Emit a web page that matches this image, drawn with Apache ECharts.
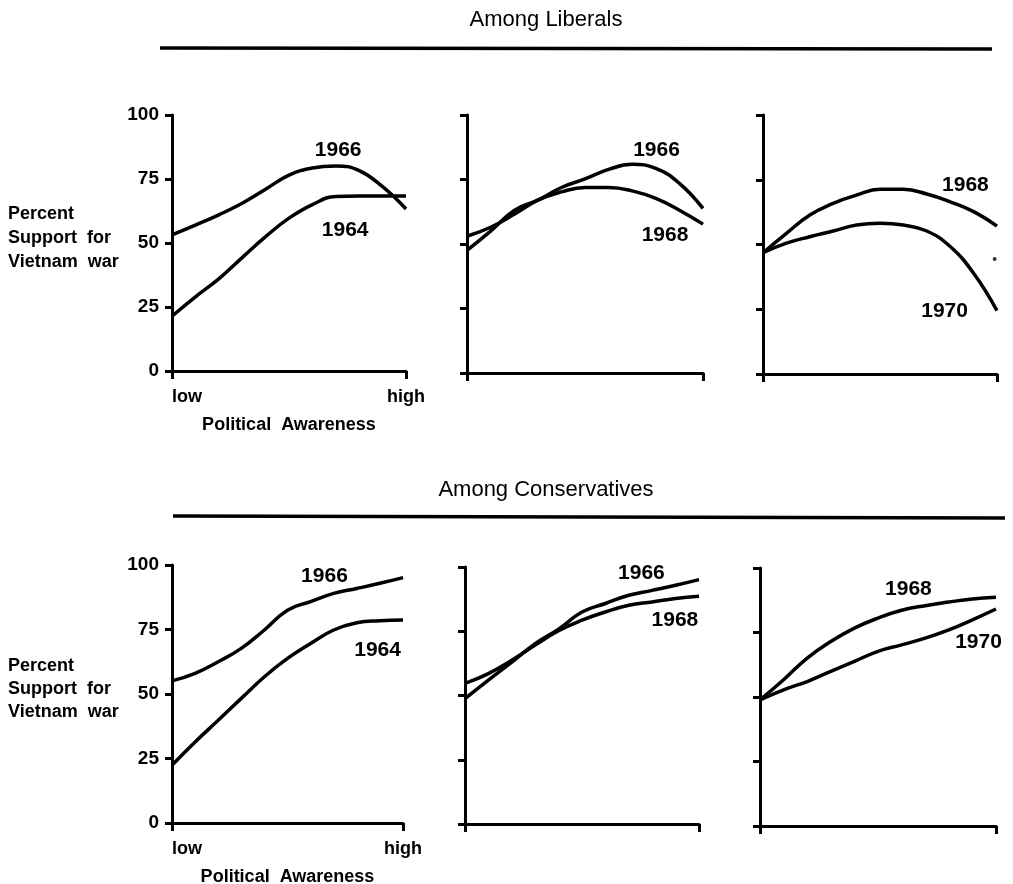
<!DOCTYPE html>
<html><head><meta charset="utf-8">
<script src="https://cdn.jsdelivr.net/npm/echarts/dist/echarts.min.js"></script>
<style>html,body{margin:0;padding:0;background:#fff}#c{width:1013px;height:884px}</style>
</head><body><div id="c"></div>
<script>
// ---- data ----
const awareness = [0, 1, 2, 3, 4, 5, 6, 7, 8, 9, 10];
const xTickLabels = ['low', 'high'];
const yTickValues = [0, 25, 50, 75, 100];

// Among Liberals
const lib1964 = [21.4, 29, 36, 44.3, 52.5, 59.7, 65, 68.2, 68.4, 68.4, 68.4];
const lib1966a = [53.2, 57, 61, 65.5, 71, 76.5, 79.3, 80.1, 78.3, 72, 63.3];
const lib1966b = [47.5, 55, 63, 67, 71.9, 75.2, 78.9, 80.9, 79.3, 73.5, 63.8];
const lib1968b = [53, 56.5, 61.5, 67, 70.2, 71.9, 71.9, 70.6, 67.7, 63.1, 57.7];
const lib1968c = [46.8, 54.3, 61.4, 65.9, 69.1, 71.3, 71.3, 69.5, 66.5, 62.7, 57.1];
const lib1970c = [46.8, 50.5, 53, 55.2, 57.5, 58.2, 57.5, 55.2, 49.2, 38.9, 24.5];
const libSpeck = [[9.9, 44.4]];

// Among Conservatives
const con1964 = [22.4, 31.4, 39.8, 48.3, 56.7, 63.8, 69.6, 74.8, 77.6, 78.4, 78.7];
const con1966a = [55.1, 58, 62.5, 67.7, 74.8, 82.5, 85.8, 89, 90.9, 92.9, 95.1];
const con1966b = [48.8, 56, 63, 70.2, 75.8, 82.5, 85.8, 89, 90.9, 92.9, 95.1];
const con1968b = [54.7, 58.5, 63.7, 69.6, 75.2, 79.3, 82.5, 85.1, 86.4, 87.7, 88.6];
const con1968c = [48.9, 56.7, 65.1, 71.5, 76.7, 80.6, 83.6, 85.4, 86.8, 88, 88.7];
const con1970c = [48.9, 52.8, 56, 59.9, 63.8, 67.7, 70.2, 72.8, 76, 79.9, 84.1];

const panels = [
  { years: ['1964', '1966'], values: [lib1964, lib1966a] },
  { years: ['1966', '1968'], values: [lib1966b, lib1968b] },
  { years: ['1968', '1970'], values: [lib1968c, lib1970c] },
  { years: ['1964', '1966'], values: [con1964, con1966a] },
  { years: ['1966', '1968'], values: [con1966b, con1968b] },
  { years: ['1968', '1970'], values: [con1968c, con1970c] }
];

// ---- layout / style ----
const FONT = '"Liberation Sans", Arial, Helvetica, sans-serif';
const gridBoxes = [
  { left: 172, top: 115, width: 234, height: 256 },
  { left: 467, top: 115, width: 236, height: 258 },
  { left: 763, top: 115, width: 234, height: 259 },
  { left: 172, top: 565, width: 231, height: 258 },
  { left: 465, top: 567, width: 234, height: 257 },
  { left: 760, top: 568, width: 236, height: 258 }
];
// where the year labels sit, in data units [awareness, percent]
const labelSpots = [
  [[7.4, 55.1], [7.1, 86.3]],
  [[8.03, 86.4], [8.39, 53.3]],
  [[8.65, 73.0], [7.76, 24.3]],
  [[8.9, 67.1], [6.6, 95.5]],
  [[7.54, 97.5], [8.97, 79.4]],
  [[6.29, 91.6], [9.26, 71.4]]
];

const chart = echarts.init(document.getElementById('c'), null, { renderer: 'canvas' });

const grids = [], xAxes = [], yAxes = [], series = [];
gridBoxes.forEach((b, i) => {
  const labeled = (i === 0 || i === 3);
  grids.push(Object.assign({ outerBoundsMode: 'none', containLabel: false }, b));
  xAxes.push({
    type: 'value', gridIndex: i, min: 0, max: 10, interval: 10,
    name: labeled ? 'Political  Awareness' : '',
    nameLocation: 'middle', nameGap: labeled ? 45 : 0,
    nameTextStyle: { color: '#000', fontSize: 18, fontWeight: 'bold', fontFamily: FONT },
    axisLine: { show: true, onZero: false, lineStyle: { color: '#000', width: 3 } },
    axisTick: { show: true, length: 8, lineStyle: { color: '#000', width: 3 } },
    axisLabel: {
      show: labeled, margin: 17, color: '#000', fontSize: 18, fontWeight: 'bold', fontFamily: FONT,
      formatter: v => (v === 0 ? xTickLabels[0] : xTickLabels[1]),
      alignMinLabel: 'left', alignMaxLabel: 'center'
    },
    splitLine: { show: false }
  });
  yAxes.push({
    type: 'value', gridIndex: i, min: 0, max: 100, interval: 25,
    axisLine: { show: true, onZero: false, lineStyle: { color: '#000', width: 3 } },
    axisTick: { show: true, length: 7, lineStyle: { color: '#000', width: 3 } },
    axisLabel: {
      show: labeled, margin: 13, color: '#000', fontSize: 19, fontWeight: 'bold', fontFamily: FONT,
      formatter: v => (yTickValues.indexOf(v) >= 0 ? String(v) : '')
    },
    splitLine: { show: false }
  });
  const p = panels[i];
  p.years.forEach((yr, k) => {
    series.push({
      type: 'line', name: yr, xAxisIndex: i, yAxisIndex: i,
      data: awareness.map((x, j) => [x, p.values[k][j]]),
      smooth: 0.45, showSymbol: false, silent: true,
      lineStyle: { color: '#000', width: 3.5 },
      markPoint: {
        symbol: 'rect', symbolSize: 1, silent: true,
        itemStyle: { color: 'rgba(0,0,0,0)' },
        label: { show: true, position: 'inside', formatter: yr, color: '#000',
                 fontSize: 21, fontWeight: 'bold', fontFamily: FONT },
        data: [{ coord: labelSpots[i][k] }]
      }
    });
  });
});
series.push({
  type: 'scatter', xAxisIndex: 2, yAxisIndex: 2, data: libSpeck,
  symbolSize: 4, itemStyle: { color: '#000' }, silent: true
});

const graphic = [
  { type: 'text', style: { text: 'Among Liberals', x: 546, y: 20, align: 'center', verticalAlign: 'middle',
      font: '22px ' + FONT, fill: '#000' } },
  { type: 'line', shape: { x1: 160, y1: 48, x2: 992, y2: 49 }, style: { stroke: '#000', lineWidth: 3.5 } },
  { type: 'text', style: { text: 'Among Conservatives', x: 546, y: 490, align: 'center', verticalAlign: 'middle',
      font: '22px ' + FONT, fill: '#000' } },
  { type: 'line', shape: { x1: 173, y1: 516, x2: 1005, y2: 518 }, style: { stroke: '#000', lineWidth: 3.5 } },
  { type: 'text', style: { text: 'Percent\nSupport  for\nVietnam  war', x: 8, y: 202, verticalAlign: 'top',
      font: 'bold 18px ' + FONT, lineHeight: 24, fill: '#000' } },
  { type: 'text', style: { text: 'Percent\nSupport  for\nVietnam  war', x: 8, y: 655, verticalAlign: 'top',
      font: 'bold 18px ' + FONT, lineHeight: 23, fill: '#000' } }
];

chart.setOption({
  animation: false,
  backgroundColor: '#fff',
  grid: grids, xAxis: xAxes, yAxis: yAxes, series: series, graphic: graphic
});
</script></body></html>
